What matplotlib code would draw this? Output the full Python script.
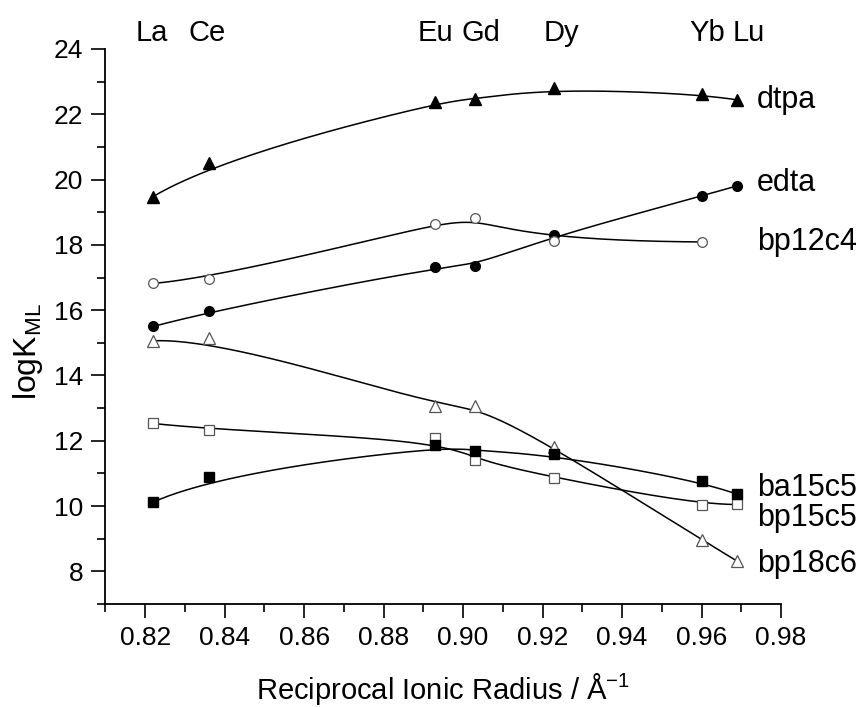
import numpy as np
import matplotlib
matplotlib.use("Agg")
import matplotlib.pyplot as plt
from matplotlib.ticker import MultipleLocator

plt.rcParams['font.family'] = ['Liberation Sans', 'DejaVu Sans']
plt.rcParams['mathtext.fontset'] = 'custom'
plt.rcParams['mathtext.rm'] = 'Liberation Sans'

# reciprocal ionic radius (1/A) of the lanthanides
elements = ['La', 'Ce', 'Eu', 'Gd', 'Dy', 'Yb', 'Lu']
inv_r = [0.822, 0.836, 0.893, 0.903, 0.923, 0.960, 0.969]

dtpa = [19.48, 20.50, 22.39, 22.46, 22.82, 22.62, 22.44]
edta = [15.50, 15.96, 17.33, 17.36, 18.30, 19.49, 19.81]
bp12c4 = [16.82, 16.96, 18.64, 18.83, 18.12, 18.09]   # no Lu
bp18c6 = [15.06, 15.15, 13.06, 13.06, 11.81, 8.97, 8.31]
bp15c5 = [12.53, 12.34, 12.07, 11.42, 10.86, 10.03, 10.05]
ba15c5 = [10.12, 10.89, 11.86, 11.69, 11.58, 10.76, 10.36]


def bspline(cx, cy, k=3, num=300):
    # clamped cubic B-spline, data points used as control points
    cx = np.asarray(cx, float)
    cy = np.asarray(cy, float)
    n = len(cx)
    t = np.concatenate([[0.0] * k, np.linspace(0, 1, n - k + 1), [1.0] * k])
    u = np.linspace(0, 1, num)
    N = np.zeros((len(t) - 1, num))
    for i in range(len(t) - 1):
        N[i] = (t[i] <= u) & (u < t[i + 1])
    last = np.max(np.nonzero(t < 1.0))
    N[last, -1] = 1.0
    for p in range(1, k + 1):
        Nn = np.zeros((len(t) - 1 - p, num))
        for i in range(len(t) - 1 - p):
            a = t[i + p] - t[i]
            b = t[i + p + 1] - t[i + 1]
            if a > 0:
                Nn[i] += (u - t[i]) / a * N[i]
            if b > 0:
                Nn[i] += (t[i + p + 1] - u) / b * N[i + 1]
        N = Nn
    return cx @ N, cy @ N


fig = plt.figure(figsize=(8.57, 7.07), dpi=100)
ax = fig.add_axes([0.1231, 0.1457, 0.7882, 0.785])

series = [
    ('dtpa', dtpa, dict(marker='^', ms=8.5, mfc='black', mec='black')),
    ('edta', edta, dict(marker='o', ms=7, mfc='black', mec='black')),
    ('bp12c4', bp12c4, dict(marker='o', ms=7, mfc='white', mec='#555555', mew=0.9)),
    ('bp18c6', bp18c6, dict(marker='^', ms=8.5, mfc='white', mec='#555555', mew=0.9)),
    ('bp15c5', bp15c5, dict(marker='s', ms=6.5, mfc='white', mec='#555555', mew=0.9)),
    ('ba15c5', ba15c5, dict(marker='s', ms=6.5, mfc='black', mec='black')),
]

for name, vals, style in series:
    xs = inv_r[:len(vals)]
    sx, sy = bspline(xs, vals)
    ax.plot(sx, sy, color='black', lw=1.1, zorder=2)
    ax.plot(xs, vals, ls='none', zorder=3, **style)

# curve labels on the right
label_y = {'dtpa': 22.45, 'edta': 19.9, 'bp12c4': 18.1,
           'ba15c5': 10.55, 'bp15c5': 9.62, 'bp18c6': 8.24}
for name, yv in label_y.items():
    ax.text(0.974, yv, name, fontsize=22, ha='left', va='center',
            clip_on=False)

# element labels across the top (nudged apart a little, in points)
nudge = [-1, -1, 0, 4, 5, 4, 8]
for el, xv, dx in zip(elements, inv_r, nudge):
    ax.annotate(el, (xv, 24.5), xytext=(dx, 0), textcoords='offset points',
                fontsize=21, ha='center', va='center', annotation_clip=False)

ax.set_xlim(0.81, 0.98)
ax.set_ylim(7, 24)
ax.xaxis.set_minor_locator(MultipleLocator(0.01))
ax.yaxis.set_minor_locator(MultipleLocator(1))
ax.set_yticks(range(8, 25, 2))
ax.set_xticks(np.arange(0.82, 0.981, 0.02))
ax.set_xticklabels(['%.2f' % v for v in np.arange(0.82, 0.981, 0.02)])

ax.spines['top'].set_visible(False)
ax.spines['right'].set_visible(False)
for s in ('left', 'bottom'):
    ax.spines[s].set_linewidth(1.3)
ax.tick_params(which='major', direction='out', length=10, width=1.2,
               labelsize=19, pad=6)
ax.tick_params(which='minor', direction='out', length=6, width=1.2)

ax.set_xlabel('Reciprocal Ionic Radius / Å$^{-1}$', fontsize=21)
ax.xaxis.set_label_coords(0.5, -0.12)
ax.set_ylabel('logK$_{\\mathrm{ML}}$', fontsize=23)
ax.yaxis.set_label_coords(-0.09, 0.455)

fig.savefig('out.png', dpi=100, facecolor='white')
